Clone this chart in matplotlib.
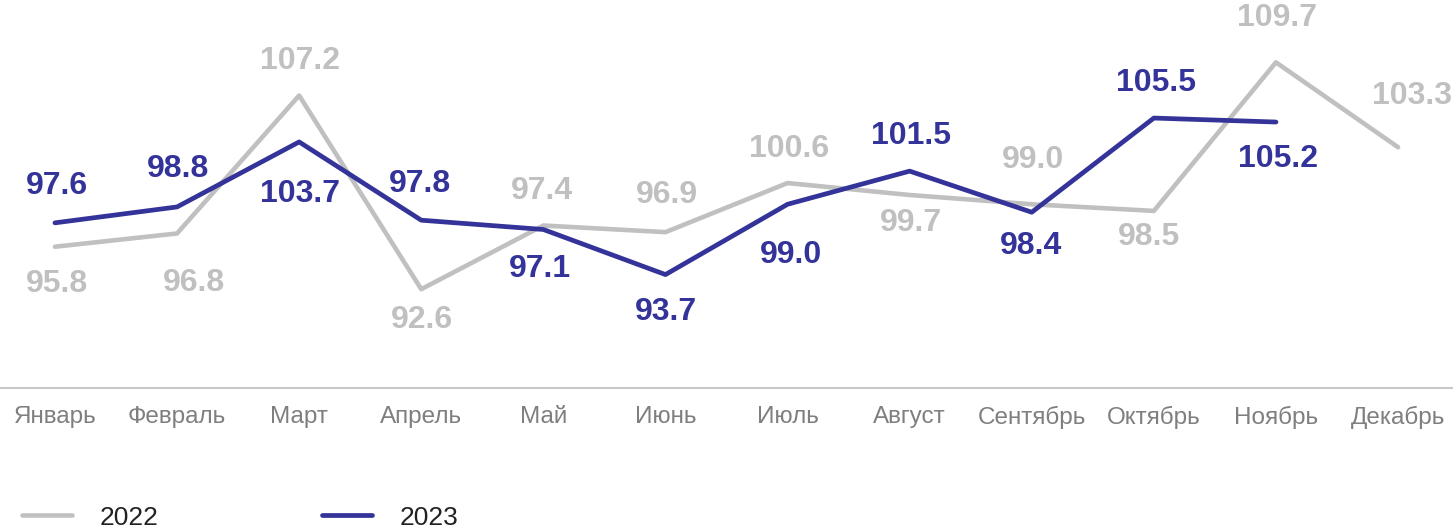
import matplotlib
matplotlib.use('Agg')
import matplotlib.pyplot as plt

plt.rcParams['font.family'] = ['Liberation Sans', 'DejaVu Sans']

months = ['Январь', 'Февраль', 'Март', 'Апрель', 'Май', 'Июнь', 'Июль',
          'Август', 'Сентябрь', 'Октябрь', 'Ноябрь', 'Декабрь']
y2022 = [95.8, 96.8, 107.2, 92.6, 97.4, 96.9, 100.6, 99.7, 99.0, 98.5, 109.7, 103.3]
y2023 = [97.6, 98.8, 103.7, 97.8, 97.1, 93.7, 99.0, 101.5, 98.4, 105.5, 105.2]

# label offsets in pixels (dx, dy up)
off2022 = [(2, -37), (17, -50), (1, 35), (1, -31), (-1, 35), (1, 37),
           (2, 34), (1, -28), (1, 44), (-5, -26), (1, 44), (14, 51)]
off2023 = [(2, 37), (1, 38), (1, -52), (-1, 36), (-3, -40), (0, -37),
           (3, -51), (1, 35), (-1, -34), (2, 35), (2, -37)]

gray = '#c0c0c0'
navy = '#333399'

fig = plt.figure(figsize=(14.53, 5.27), dpi=100)
ax = fig.add_axes([0, 1 - 388 / 527, 1, 388 / 527])

x = list(range(12))
ax.plot(x, y2022, color=gray, lw=3.3, solid_capstyle='round', label='2022')
ax.plot(x[:len(y2023)], y2023, color=navy, lw=3.4, solid_capstyle='round', label='2023')

px = 0.72
for i, v in enumerate(y2022):
    ax.annotate(f'{v:.1f}', (i, v), xytext=(off2022[i][0] * px, off2022[i][1] * px),
                textcoords='offset points', ha='center', va='center',
                fontsize=23, fontweight='bold', color=gray, annotation_clip=False)
for i, v in enumerate(y2023):
    ax.annotate(f'{v:.1f}', (i, v), xytext=(off2023[i][0] * px, off2023[i][1] * px),
                textcoords='offset points', ha='center', va='center',
                fontsize=23, fontweight='bold', color=navy)

ax.set_xlim(-0.45, 11.45)
ax.set_ylim(85.15, 114.4)
ax.set_xticks(x)
ax.set_xticklabels(months, fontsize=17.5, color='#7f7f7f')
ax.tick_params(axis='x', length=0, pad=13)
ax.set_yticks([])
for s in ['top', 'left', 'right']:
    ax.spines[s].set_visible(False)
ax.spines['bottom'].set_color('#c8c8c8')
ax.spines['bottom'].set_linewidth(1.5)

leg = fig.legend(loc='lower left', bbox_to_anchor=(-0.0014, -0.05), ncol=2, frameon=False,
                 fontsize=19, handlelength=1.9, handletextpad=1.05, columnspacing=6.2)
for t in leg.get_texts():
    t.set_color('#222222')

fig.savefig('out.png', dpi=100)
